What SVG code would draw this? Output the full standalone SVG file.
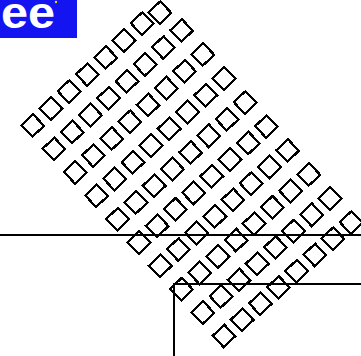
<svg xmlns="http://www.w3.org/2000/svg" xmlns:xlink="http://www.w3.org/1999/xlink" width="361" height="356" viewBox="0 0 361 356">
<style>
.sq{fill:none;stroke:#000;stroke-width:2.2;shape-rendering:crispEdges}
.ln{fill:none;stroke:#000;stroke-width:2;shape-rendering:crispEdges}
.lbl{font-family:"Liberation Sans",Arial,sans-serif;font-weight:bold;font-size:44px;fill:#fff}
</style>
<defs>
<rect id="sq" class="sq" x="-8" y="-8" width="16" height="16" transform="rotate(46)"/>
</defs>
<rect width="361" height="356" fill="#fff"/>
<g id="logo">
<rect x="0" y="0" width="77" height="38" fill="#1414f0"/>
<text class="lbl" x="1" y="28" textLength="54" lengthAdjust="spacingAndGlyphs">ee</text>
<circle cx="56" cy="2" r="1.2" fill="#e8e000"/>
</g>
<g id="squares">
<use xlink:href="#sq" transform="translate(160,12.7)"/>
<use xlink:href="#sq" transform="translate(181.6,30.5)"/>
<use xlink:href="#sq" transform="translate(202.8,54.5)"/>
<use xlink:href="#sq" transform="translate(224,78.5)"/>
<use xlink:href="#sq" transform="translate(245.2,102.5)"/>
<use xlink:href="#sq" transform="translate(266.4,126.5)"/>
<use xlink:href="#sq" transform="translate(287.6,150.5)"/>
<use xlink:href="#sq" transform="translate(308.8,174.5)"/>
<use xlink:href="#sq" transform="translate(330,198.5)"/>
<use xlink:href="#sq" transform="translate(351.2,222.5)"/>

<use xlink:href="#sq" transform="translate(142.2,23.5)"/>
<use xlink:href="#sq" transform="translate(163.4,47.4)"/>
<use xlink:href="#sq" transform="translate(184.6,71.3)"/>
<use xlink:href="#sq" transform="translate(205.8,95.2)"/>
<use xlink:href="#sq" transform="translate(227,119.2)"/>
<use xlink:href="#sq" transform="translate(248.2,143.1)"/>
<use xlink:href="#sq" transform="translate(269.4,167)"/>
<use xlink:href="#sq" transform="translate(290.6,190.9)"/>
<use xlink:href="#sq" transform="translate(311.8,214.8)"/>
<use xlink:href="#sq" transform="translate(333,238.7)"/>

<use xlink:href="#sq" transform="translate(123.9,40.5)"/>
<use xlink:href="#sq" transform="translate(145.1,64.3)"/>
<use xlink:href="#sq" transform="translate(166.3,88.2)"/>
<use xlink:href="#sq" transform="translate(187.6,112)"/>
<use xlink:href="#sq" transform="translate(208.8,135.8)"/>
<use xlink:href="#sq" transform="translate(230,159.6)"/>
<use xlink:href="#sq" transform="translate(251.2,183.5)"/>
<use xlink:href="#sq" transform="translate(272.4,207.3)"/>
<use xlink:href="#sq" transform="translate(293.6,231.1)"/>
<use xlink:href="#sq" transform="translate(314.9,254.9)"/>

<use xlink:href="#sq" transform="translate(105.7,57.5)"/>
<use xlink:href="#sq" transform="translate(126.9,81.2)"/>
<use xlink:href="#sq" transform="translate(148.1,105)"/>
<use xlink:href="#sq" transform="translate(169.3,128.7)"/>
<use xlink:href="#sq" transform="translate(190.6,152.5)"/>
<use xlink:href="#sq" transform="translate(211.8,176.2)"/>
<use xlink:href="#sq" transform="translate(233,199.9)"/>
<use xlink:href="#sq" transform="translate(254.2,223.7)"/>
<use xlink:href="#sq" transform="translate(275.5,247.4)"/>
<use xlink:href="#sq" transform="translate(296.7,271.1)"/>

<use xlink:href="#sq" transform="translate(87.4,74.5)"/>
<use xlink:href="#sq" transform="translate(108.7,98.2)"/>
<use xlink:href="#sq" transform="translate(129.9,121.8)"/>
<use xlink:href="#sq" transform="translate(151.1,145.5)"/>
<use xlink:href="#sq" transform="translate(172.4,169.1)"/>
<use xlink:href="#sq" transform="translate(193.6,192.8)"/>
<use xlink:href="#sq" transform="translate(214.8,216.4)"/>
<use xlink:href="#sq" transform="translate(236.1,240.1)"/>
<use xlink:href="#sq" transform="translate(257.3,263.7)"/>
<use xlink:href="#sq" transform="translate(278.5,287.4)"/>

<use xlink:href="#sq" transform="translate(69.2,91.5)"/>
<use xlink:href="#sq" transform="translate(90.4,115.1)"/>
<use xlink:href="#sq" transform="translate(111.7,138.6)"/>
<use xlink:href="#sq" transform="translate(132.9,162.2)"/>
<use xlink:href="#sq" transform="translate(154.2,185.8)"/>
<use xlink:href="#sq" transform="translate(175.4,209.3)"/>
<use xlink:href="#sq" transform="translate(196.6,232.9)"/>
<use xlink:href="#sq" transform="translate(217.9,256.5)"/>
<use xlink:href="#sq" transform="translate(239.1,280)"/>
<use xlink:href="#sq" transform="translate(260.4,303.6)"/>

<use xlink:href="#sq" transform="translate(50.9,108.5)"/>
<use xlink:href="#sq" transform="translate(72.2,132)"/>
<use xlink:href="#sq" transform="translate(93.4,155.5)"/>
<use xlink:href="#sq" transform="translate(114.7,178.9)"/>
<use xlink:href="#sq" transform="translate(135.9,202.4)"/>
<use xlink:href="#sq" transform="translate(157.2,225.9)"/>
<use xlink:href="#sq" transform="translate(178.4,249.4)"/>
<use xlink:href="#sq" transform="translate(199.7,272.8)"/>
<use xlink:href="#sq" transform="translate(221,296.3)"/>
<use xlink:href="#sq" transform="translate(242.2,319.8)"/>

<use xlink:href="#sq" transform="translate(32.7,125.5)"/>
<use xlink:href="#sq" transform="translate(54,148.9)"/>
<use xlink:href="#sq" transform="translate(75.2,172.3)"/>
<use xlink:href="#sq" transform="translate(96.5,195.7)"/>
<use xlink:href="#sq" transform="translate(117.7,219.1)"/>
<use xlink:href="#sq" transform="translate(139,242.5)"/>
<use xlink:href="#sq" transform="translate(160.3,265.8)"/>
<use xlink:href="#sq" transform="translate(181.5,289.2)"/>
<use xlink:href="#sq" transform="translate(202.8,312.6)"/>
<use xlink:href="#sq" transform="translate(224,336)"/>
</g>
<g id="lines">
<path class="ln" d="M0,235 H361"/>
<path class="ln" d="M174,357 V284 H362"/>
</g>
</svg>
